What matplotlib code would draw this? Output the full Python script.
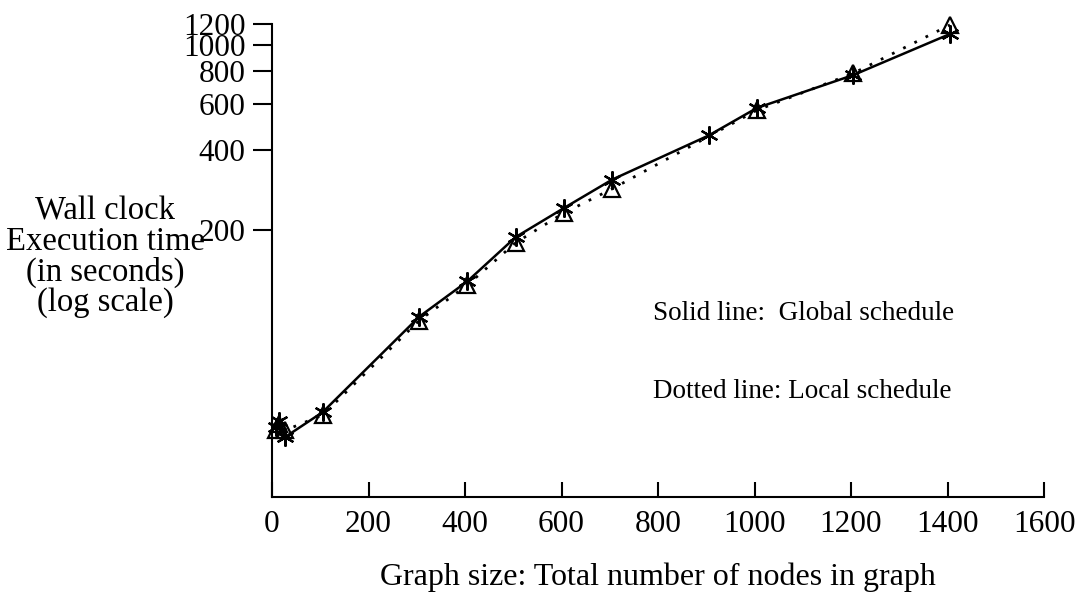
import matplotlib.pyplot as plt
from matplotlib.ticker import FixedLocator, NullLocator, FixedFormatter

plt.rcParams['font.family'] = ['Liberation Serif', 'DejaVu Serif']

# Global schedule (solid line, asterisks)
global_x = [8, 15, 27, 105, 305, 405, 505, 605, 705, 905, 1005, 1205, 1405]
global_t = [36, 38, 33, 41, 94, 128, 188, 242, 310, 455, 578, 770, 1100]

# Local schedule (dotted line, triangles)
local_x = [8, 15, 27, 105, 305, 405, 505, 605, 705, 1005, 1205, 1405]
local_t = [35, 37, 35, 40, 91, 124, 179, 232, 286, 567, 782, 1190]

yticks = [200, 400, 600, 800, 1000, 1200]
xticks = [0, 200, 400, 600, 800, 1000, 1200, 1400, 1600]

W, H = 1081, 599
fig = plt.figure(figsize=(W / 100, H / 100), dpi=100)
ax = fig.add_axes([272 / W, 1 - 497 / H, (1044 - 272) / W, (497 - 24) / H])

ax.plot(global_x, global_t, color='black', lw=1.8, marker=(6, 2, 0),
        ms=13, mew=1.6, clip_on=False)
ax.plot(local_x, local_t, color='black', lw=2.0, linestyle=(0, (1, 3.5)),
        marker='^', ms=11, mfc='none', mew=1.6, clip_on=False)

ax.set_yscale('log')
ax.set_ylim(19.6, 1200)
ax.set_xlim(0, 1600)

ax.yaxis.set_major_locator(FixedLocator(yticks))
ax.yaxis.set_major_formatter(FixedFormatter([str(v) for v in yticks]))
ax.yaxis.set_minor_locator(NullLocator())
ax.set_xticks(xticks)

ax.spines['top'].set_visible(False)
ax.spines['right'].set_visible(False)
ax.spines['left'].set_linewidth(1.5)
ax.spines['bottom'].set_linewidth(1.5)

ax.tick_params(axis='y', direction='out', length=14, width=1.5, pad=5, labelsize=22.5)
ax.tick_params(axis='x', direction='in', length=11, width=1.5, pad=9, labelsize=22.5)

fig.text(105 / W, 1 - 257 / H, 'Wall clock\nExecution time\n(in seconds)\n(log scale)',
         ha='center', va='center', fontsize=23.5, linespacing=0.99)
fig.text(658 / W, 1 - 577 / H, 'Graph size: Total number of nodes in graph',
         ha='center', va='center', fontsize=23)
fig.text(653 / W, 1 - 313 / H, 'Solid line:  Global schedule',
         ha='left', va='center', fontsize=19.5)
fig.text(653 / W, 1 - 392 / H, 'Dotted line: Local schedule',
         ha='left', va='center', fontsize=19.5)

fig.savefig('out.png', dpi=100)
